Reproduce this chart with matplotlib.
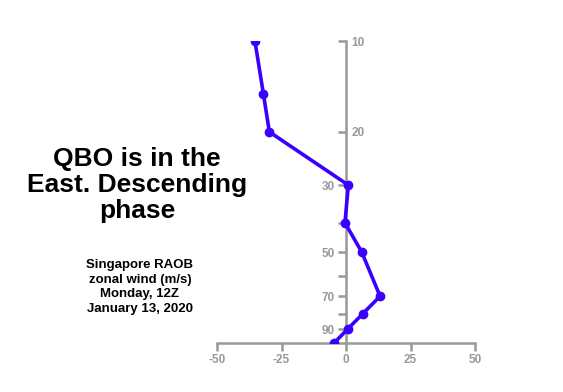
import matplotlib
matplotlib.use("Agg")
import matplotlib.pyplot as plt
from matplotlib.ticker import NullLocator, FixedLocator

plt.rcParams['font.family'] = ['Liberation Sans', 'DejaVu Sans']

pressure = [10, 15, 20, 30, 40, 50, 70, 80, 90, 100]
wind = [-35.3, -32.0, -29.7, 0.9, -0.4, 6.1, 13.2, 6.5, 0.6, -4.6]

left_ticks = [10, 20, 30, 40, 50, 60, 70, 80, 90]
left_labels = ['', '', '30', '', '50', '', '70', '', '90']
right_ticks = [10, 20]
right_labels = ['10', '20']
x_ticks = [-50, -25, 0, 25, 50]
x_labels = ['-50', '-25', '0', '25', '50']

title = "QBO is in the\nEast. Descending\nphase"
subtitle = "Singapore RAOB\nzonal wind (m/s)\nMonday, 12Z\nJanuary 13, 2020"

axis_color = '#999999'
line_color = '#3a00ff'

fig = plt.figure(figsize=(5.63, 3.92), dpi=100)
ax = fig.add_axes([217/563, 1-343/392, (475-217)/563, (343-41)/392])
ax.set_yscale('log')
ax.set_ylim(100, 10)
ax.set_xlim(-50, 50)

ax.plot(wind, pressure, color=line_color, lw=2.6, marker='o', ms=6, clip_on=True, zorder=3)

for s in ['top', 'right']:
    ax.spines[s].set_visible(False)
ax.spines['left'].set_position(('data', 0))
ax.spines['left'].set_color(axis_color)
ax.spines['left'].set_linewidth(1.8)
ax.spines['bottom'].set_color(axis_color)
ax.spines['bottom'].set_linewidth(1.8)

ax.yaxis.set_minor_locator(NullLocator())
ax.yaxis.set_major_locator(FixedLocator(left_ticks))
ax.set_yticklabels(left_labels)
ax.set_xticks(x_ticks)
ax.set_xticklabels(x_labels)
ax.tick_params(axis='both', colors=axis_color, labelcolor=axis_color, length=6, width=1.8,
               labelsize=8.5, pad=2)
for t in ax.get_xticklabels() + ax.get_yticklabels():
    t.set_fontweight('bold')

sec = ax.secondary_yaxis(0.5)
sec.spines['right'].set_visible(False)
sec.spines['left'].set_visible(False)
sec.yaxis.set_minor_locator(NullLocator())
sec.set_yticks(right_ticks)
sec.set_yticklabels(right_labels)
sec.tick_params(axis='y', length=0, pad=4, colors=axis_color, labelcolor=axis_color, labelsize=8.5)
for t in sec.get_yticklabels():
    t.set_fontweight('bold')

fig.text(137/563, 1-185/392, title, ha='center', va='center', fontsize=19,
         fontweight='bold', linespacing=1.08, color='black')
fig.text(140/563, 1-287/392, subtitle, ha='center', va='center', fontsize=9.5,
         fontweight='bold', linespacing=1.3, color='black')

fig.savefig('out.png', dpi=100)
